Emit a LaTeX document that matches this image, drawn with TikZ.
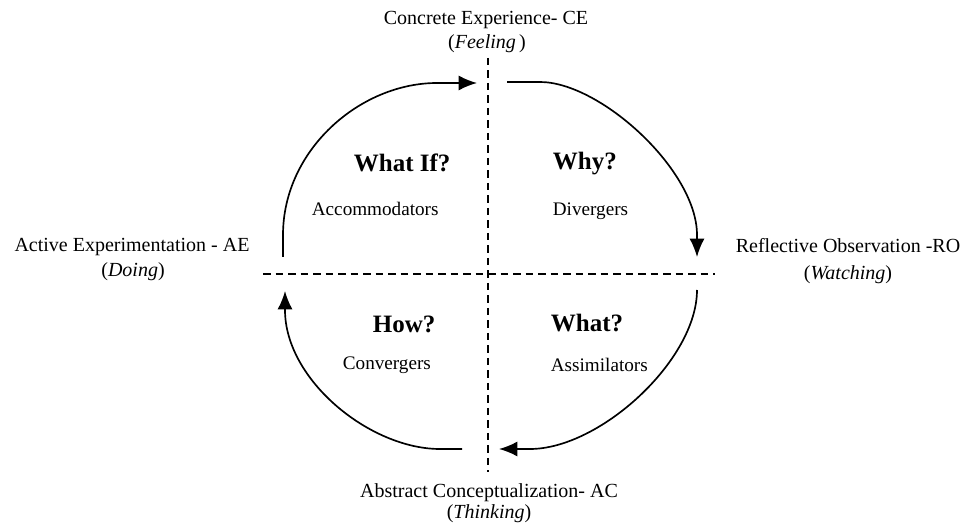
\documentclass[tikz,border=0pt]{standalone}
\usepackage{fontspec}
\setmainfont{Liberation Serif}
\usetikzlibrary{arrows.meta}
\begin{document}
\begin{tikzpicture}[x=0.6pt,y=-0.6pt,>={Latex[length=11pt,width=9pt]},
  axis/.style={line width=1.2pt,dash pattern=on 4.5pt off 3pt},
  cycle/.style={line width=1pt,->},
  mode/.style={font=\fontsize{12}{14}\selectfont,anchor=base},
  quest/.style={font=\fontsize{15}{18}\selectfont\bfseries,anchor=base west},
  style/.style={font=\fontsize{11.5}{14}\selectfont,anchor=base west}]
\useasboundingbox (0,0) rectangle (966,526);

% axes
\coordinate (top) at (488,58);
\coordinate (bottom) at (488,472);
\coordinate (left) at (263,274);
\coordinate (right) at (715,274);
\draw[axis] (top) -- (bottom);
\draw[axis] (left) -- (right);

% the four modes
\node[mode] (ce) at (486,25) {Concrete Experience- CE};
\node[mode] (ceb) at (487,49) {(\textit{Feeling\,})};
\node[mode] (ro) at (848,253) {Reflective Observation -RO};
\node[mode] (rob) at (848,280) {(\textit{Watching})};
\node[mode] (ac) at (489,497) {Abstract Conceptualization- AC};
\node[mode] (acb) at (489,518) {(\textit{Thinking})};
\node[mode] (ae) at (132,252) {Active Experimentation - AE};
\node[mode] (aeb) at (133,277) {(\textit{Doing})};

% the cycle
\coordinate (tl) at (283,257);
\coordinate (tlend) at (477,83);
\coordinate (tr) at (507,82);
\coordinate (trend) at (697,257);
\coordinate (br) at (697,290);
\coordinate (brend) at (499,449);
\coordinate (bl) at (462,449);
\coordinate (blend) at (285,291);
\draw[cycle] (tl) -- (283,235) .. controls (283,150) and (360,83) .. (437,83) -- (tlend);
\draw[cycle] (tr) -- (540,82) .. controls (600,82) and (697,170) .. (697,235) -- (trend);
\draw[cycle] (br) .. controls (697,360) and (600,449) .. (530,449) -- (brend);
\draw[cycle] (bl) -- (440,449) .. controls (370,449) and (285,380) .. (285,310) -- (blend);

% learning styles
\node[quest] (whatif) at (348,172) {What If?};
\node[style] (acc) at (306,216) {Accommodators};
\node[quest] (why) at (547,170) {Why?};
\node[style] (div) at (547,216) {Divergers};
\node[quest] (how) at (367,333) {How?};
\node[style] (conv) at (337,370) {Convergers};
\node[quest] (what) at (545,332) {What?};
\node[style] (assim) at (545,372) {Assimilators};

\end{tikzpicture}
\end{document}
